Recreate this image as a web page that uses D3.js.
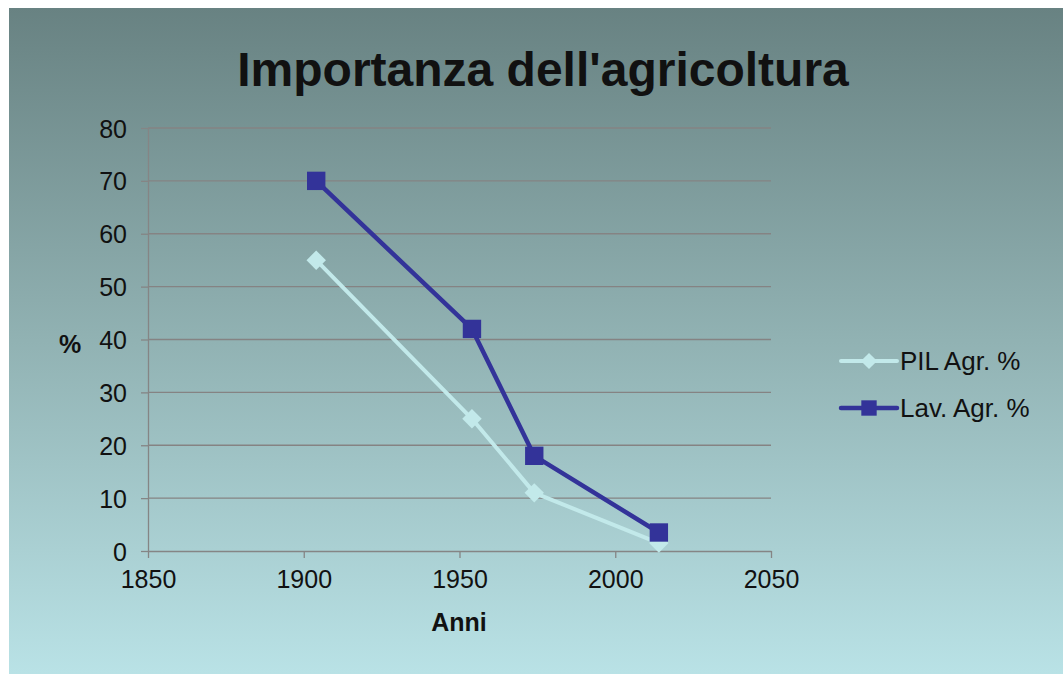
<!DOCTYPE html>
<html>
<head>
<meta charset="utf-8">
<script src="https://cdn.jsdelivr.net/npm/d3@7"></script>
<style>
  html, body { margin: 0; padding: 0; background: #fff; }
  svg { display: block; font-family: 'Liberation Sans', Arial, sans-serif; }
</style>
</head>
<body>
<div id="chart"></div>
<script>
const years = [1904, 1954, 1974, 2014];
const pilAgr = [55, 25, 11, 1.5];
const lavAgr = [70, 42, 18, 3.5];
const xTicks = [1850, 1900, 1950, 2000, 2050];
const yTicks = [0, 10, 20, 30, 40, 50, 60, 70, 80];
const seriesNames = ['PIL Agr. %', 'Lav. Agr. %'];

const W = 1063;
const H = 674;
const margin = { left: 148, right: 292, top: 128, bottom: 123 };
const fontSize = '25px';

const svg = d3.select('#chart').append('svg')
  .attr('width', W)
  .attr('height', H);

const grad = svg.append('defs').append('linearGradient')
  .attr('id', 'bg')
  .attr('x1', 0).attr('y1', 0).attr('x2', 0).attr('y2', 1);
grad.append('stop').attr('offset', '0%').attr('stop-color', '#688282');
grad.append('stop').attr('offset', '50%').attr('stop-color', '#91b2b3');
grad.append('stop').attr('offset', '100%').attr('stop-color', '#b9e2e6');

svg.append('rect')
  .attr('x', 9).attr('y', 8)
  .attr('width', W - 9).attr('height', H - 8)
  .attr('fill', 'url(#bg)');

const x = d3.scaleLinear()
  .domain([1850, 2050])
  .range([margin.left, W - margin.right]);
const y = d3.scaleLinear()
  .domain([0, 80])
  .range([H - margin.bottom, margin.top]);

// gridlines
svg.append('g')
  .selectAll('line')
  .data(yTicks.filter((d) => d > 0))
  .enter()
  .append('line')
  .attr('x1', x(1850))
  .attr('x2', x(2050))
  .attr('y1', (d) => y(d))
  .attr('y2', (d) => y(d))
  .attr('stroke', '#858383')
  .attr('stroke-width', 1.3);

const axisColor = '#858585';

const yAxis = svg.append('g')
  .attr('transform', `translate(${x(1850)},0)`)
  .call(d3.axisLeft(y).tickValues(yTicks).tickSize(7).tickPadding(14).tickSizeOuter(0));
const xAxis = svg.append('g')
  .attr('transform', `translate(0,${y(0)})`)
  .call(d3.axisBottom(x).tickValues(xTicks).tickFormat(d3.format('d')).tickSize(7).tickPadding(12).tickSizeOuter(0));

[yAxis, xAxis].forEach((ax) => {
  ax.select('.domain').attr('stroke', axisColor).attr('stroke-width', 1.3);
  ax.selectAll('.tick line').attr('stroke', axisColor).attr('stroke-width', 1.3);
  ax.selectAll('.tick text')
    .attr('fill', '#111')
    .style('font-size', fontSize)
    .style('font-family', "'Liberation Sans', Arial, sans-serif");
});
yAxis.selectAll('.tick text').attr('dy', '0.36em');

// title and axis titles
svg.append('text')
  .attr('x', 543).attr('y', 86)
  .attr('text-anchor', 'middle')
  .attr('font-size', '48px')
  .attr('font-weight', 'bold')
  .attr('fill', '#111')
  .text("Importanza dell'agricoltura");

svg.append('text')
  .attr('x', 70).attr('y', 353)
  .attr('text-anchor', 'middle')
  .attr('font-size', fontSize)
  .attr('font-weight', 'bold')
  .attr('fill', '#111')
  .text('%');

svg.append('text')
  .attr('x', 459).attr('y', 631)
  .attr('text-anchor', 'middle')
  .attr('font-size', fontSize)
  .attr('font-weight', 'bold')
  .attr('fill', '#111')
  .text('Anni');

const series = [
  { name: seriesNames[0], values: pilAgr, color: '#c2e9ea', width: 4, symbol: d3.symbolDiamond2, size: 240 },
  { name: seriesNames[1], values: lavAgr, color: '#333399', width: 4.5, symbol: d3.symbolSquare2, size: 430 },
];

const line = d3.line()
  .x((d) => x(d[0]))
  .y((d) => y(d[1]));

series.forEach((s) => {
  const pts = years.map((yr, i) => [yr, s.values[i]]);
  svg.append('path')
    .datum(pts)
    .attr('d', line)
    .attr('fill', 'none')
    .attr('stroke', s.color)
    .attr('stroke-width', s.width)
    .attr('stroke-linejoin', 'round');
  svg.append('g')
    .selectAll('path')
    .data(pts)
    .enter()
    .append('path')
    .attr('transform', (d) => `translate(${x(d[0])},${y(d[1])})`)
    .attr('d', d3.symbol().type(s.symbol).size(s.size))
    .attr('fill', s.color);
});

// legend
const legend = svg.append('g').attr('transform', 'translate(841,361)');
series.forEach((s, i) => {
  const g = legend.append('g').attr('transform', `translate(0,${i * 47})`);
  g.append('line')
    .attr('x1', 0).attr('x2', 56)
    .attr('stroke', s.color)
    .attr('stroke-width', s.width)
    .attr('stroke-linecap', 'round');
  g.append('path')
    .attr('transform', 'translate(28,0)')
    .attr('d', d3.symbol().type(s.symbol).size(s.size * 0.7))
    .attr('fill', s.color);
  g.append('text')
    .attr('x', 59).attr('y', 0)
    .attr('dy', '0.36em')
    .attr('font-size', '26px')
    .attr('fill', '#111')
    .text(s.name);
});
</script>
</body>
</html>
